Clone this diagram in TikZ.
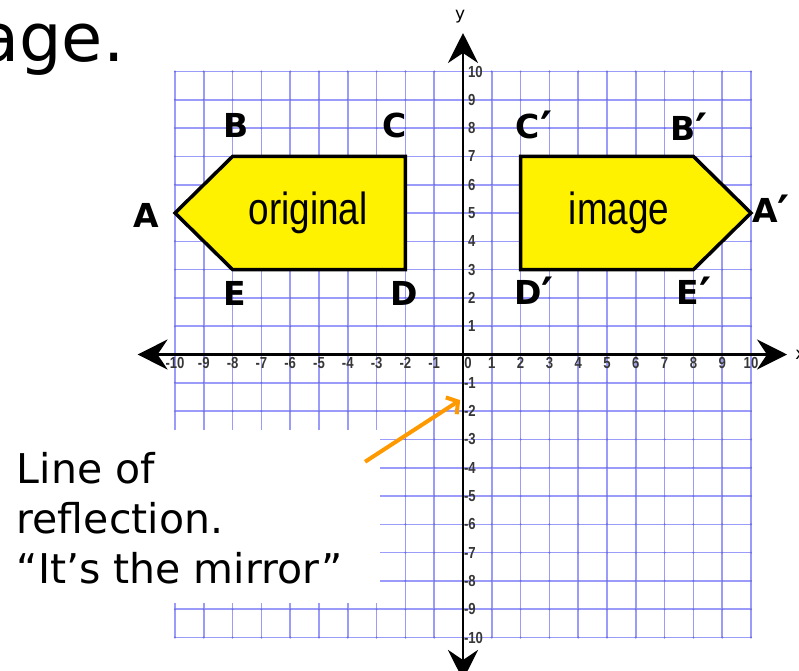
\documentclass[tikz,border=0pt]{standalone}
\usepackage{fontspec}
\setmainfont{DejaVu Sans}
\newfontfamily\narrowfont[FakeStretch=0.82]{Liberation Sans}
\usetikzlibrary{arrows.meta}

\definecolor{gridblue}{RGB}{155,155,250}
\definecolor{dotblue}{RGB}{110,110,225}
\definecolor{arroworange}{RGB}{255,153,0}
\definecolor{ticktext}{RGB}{55,55,55}

\newcommand{\primemark}{{\fontsize{46}{46}\selectfont\raisebox{-0.14em}{′}}}

\tikzset{
  vlabel/.style={font=\fontsize{33}{33}\selectfont\bfseries, inner sep=0pt},
  figshape/.style={fill=yellow, draw=black, line width=3.5pt},
  gridline/.style={gridblue, line width=1.6pt},
  axisline/.style={line width=2.6pt, {Stealth[length=30pt,width=30pt,inset=10pt]}-{Stealth[length=30pt,width=30pt,inset=10pt]}},
  ticklabel/.style={font=\narrowfont\bfseries\fontsize{16}{16}\selectfont, text=ticktext, inner sep=0pt},
}

\begin{document}
\begin{tikzpicture}[x=28.8pt, y=28.3pt]
                \useasboundingbox (-463pt,-315.5pt) rectangle (336pt,354.5pt);

                % Grid
                \foreach \k in {-10,...,10} {
                    \draw[gridline] (\k,-10) -- (\k,10);
                    \draw[gridline] (-10,\k) -- (10,\k);
                }
                \foreach \i in {-10,...,10}
                    \foreach \j in {-10,...,10}
                        \fill[dotblue] (\i,\j) circle (1.1pt);

                % Tick labels
                \foreach \k in {-10,...,-1,1,2,...,10}
                    \node[ticklabel, anchor=base] (xt\k) at (\k,-0.49) {\k};
                \node[ticklabel, anchor=base] (xt0) at (0.17,-0.49) {0};
                \foreach \k in {1,...,10}
                    \node[ticklabel, anchor=west] (yt\k) at (0.17,\k) {\k};
                \foreach \k in {-10,...,-1}
                    \node[ticklabel, anchor=west] (yt\k) at (0.03,\k) {\k};

                % Axes
                \coordinate (xmin) at (-11.3,0);
                \coordinate (xmax) at (11.25,0);
                \coordinate (ymin) at (0,-11.5);
                \coordinate (ymax) at (0,11.36);
                \draw[axisline] (xmin) -- (xmax);
                \draw[axisline] (ymin) -- (ymax);
                \node[font=\fontsize{17}{17}\selectfont, anchor=west, inner sep=0pt] (xname) at (11.53,0) {x};
                \node[font=\fontsize{17}{17}\selectfont, inner sep=0pt] (yname) at (-0.1,11.94) {y};

                % Original
                \coordinate (pA) at (-10,5);
                \coordinate (pB) at (-8,7);
                \coordinate (pC) at (-2,7);
                \coordinate (pD) at (-2,3);
                \coordinate (pE) at (-8,3);
                \draw[figshape] (pA) -- (pB) -- (pC) -- (pD) -- (pE) -- cycle;
                \node[font=\narrowfont\fontsize{45}{45}\selectfont, anchor=base] (orig) at (-5.38,4.58) {original};

                % Image
                \coordinate (qA) at (10,5);
                \coordinate (qB) at (8,7);
                \coordinate (qC) at (2,7);
                \coordinate (qD) at (2,3);
                \coordinate (qE) at (8,3);
                \draw[figshape] (qA) -- (qB) -- (qC) -- (qD) -- (qE) -- cycle;
                \node[font=\narrowfont\fontsize{45}{45}\selectfont, anchor=base] (img) at (5.42,4.58) {image};

                % Vertex labels
                \node[vlabel] (A) at (-10.99,4.93) {A};
                \node[vlabel] (B) at (-7.88,8.09) {B};
                \node[vlabel] (C) at (-2.36,8.09) {C};
                \node[vlabel] (D) at (-2.03,2.14) {D};
                \node[vlabel] (E) at (-7.93,2.14) {E};
                \node[vlabel] (Ap) at (10.69,5.04) {A\primemark};
                \node[vlabel] (Bp) at (7.85,7.93) {B\primemark};
                \node[vlabel] (Cp) at (2.47,8.0) {C\primemark};
                \node[vlabel] (Dp) at (2.47,2.14) {D\primemark};
                \node[vlabel] (Ep) at (8.02,2.14) {E\primemark};

                % Title
                \node[font=\fontsize{67}{67}\selectfont, anchor=base east, inner sep=0pt] (title) at (-11.75,10.35) {age.};

                % Mirror note
                \fill[white] (-16.2,-2.668) rectangle (-2.88,-8.78);
                \node[font=\fontsize{41}{50}\selectfont, align=left, anchor=base west, inner sep=0pt] (note) at (-15.5,-8.074) {Line of\\reflection.\\“It’s the mirror”};
                \coordinate (tail) at (-3.40,-3.79);
                \coordinate (tip) at (-0.10,-1.61);
                \draw[arroworange, line width=4pt, -{Straight Barb[length=8pt,width=20pt]}] (tail) -- (tip);
            \end{tikzpicture}
\end{document}
